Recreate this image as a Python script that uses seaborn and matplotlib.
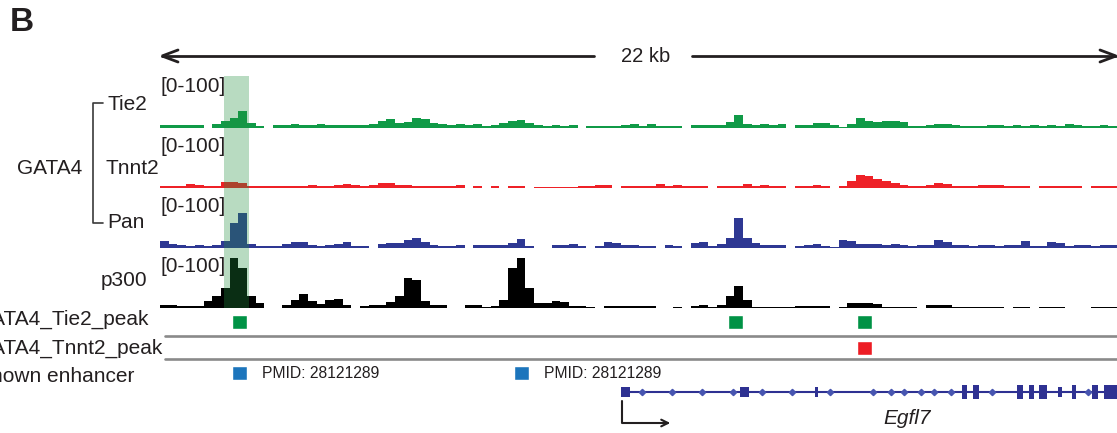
import numpy as np
import pandas as pd
import matplotlib
matplotlib.use("Agg")
import matplotlib.pyplot as plt
from matplotlib.patches import Rectangle
import seaborn as sns

# ---------------- data ----------------
region_kb = 22.0
bin_kb = 0.2
track_names = ["Tie2", "Tnnt2", "Pan", "p300"]
track_range = "[0-100]"

tie2 = [6, 6, 6, 6, 6, 0, 8, 14, 20, 34, 10, 4, 0, 6, 6, 8, 6, 6, 8, 6,
        6, 6, 6, 6, 8, 14, 18, 10, 12, 20, 18, 10, 8, 6, 8, 6, 8, 4, 6, 10,
        14, 16, 10, 6, 4, 6, 4, 6, 0, 4, 4, 4, 4, 6, 8, 4, 8, 4, 4, 4,
        0, 6, 6, 6, 6, 12, 26, 8, 6, 8, 6, 8, 0, 6, 6, 10, 10, 6, 2, 8,
        20, 14, 12, 14, 14, 12, 4, 4, 6, 8, 8, 6, 4, 4, 4, 6, 6, 4, 6, 4,
        6, 4, 6, 4, 8, 6, 4, 4, 6, 4]
tnnt2 = [4, 4, 4, 8, 6, 4, 4, 12, 12, 10, 4, 4, 4, 4, 4, 4, 4, 6, 4, 4,
         6, 8, 6, 4, 6, 10, 10, 6, 6, 4, 4, 4, 4, 4, 6, 0, 4, 0, 4, 0,
         4, 4, 0, 3, 3, 3, 3, 3, 4, 4, 6, 6, 0, 4, 4, 4, 4, 8, 4, 6,
         4, 4, 4, 0, 4, 4, 4, 8, 4, 6, 4, 4, 0, 4, 4, 6, 4, 0, 4, 14,
         26, 24, 18, 14, 10, 6, 4, 4, 6, 10, 8, 4, 4, 4, 6, 6, 6, 4, 4, 4,
         0, 4, 4, 4, 4, 4, 0, 4, 4, 4]
pan = [14, 8, 6, 4, 6, 4, 6, 14, 50, 70, 8, 4, 4, 4, 8, 12, 12, 6, 4, 6,
       8, 12, 4, 4, 0, 8, 10, 10, 16, 20, 12, 6, 4, 4, 6, 0, 6, 6, 6, 6,
       10, 18, 4, 0, 0, 6, 6, 8, 4, 0, 4, 12, 10, 6, 6, 4, 4, 0, 6, 4,
       0, 10, 12, 4, 8, 20, 60, 20, 10, 6, 6, 6, 0, 4, 6, 8, 4, 2, 16, 14,
       8, 8, 8, 6, 8, 6, 4, 6, 6, 16, 12, 6, 6, 4, 6, 6, 4, 6, 6, 14,
       4, 4, 12, 10, 4, 6, 6, 4, 6, 6]
p300 = [6, 6, 4, 4, 4, 14, 24, 40, 100, 80, 24, 10, 0, 0, 6, 16, 28, 14, 8, 16,
        18, 6, 0, 4, 6, 6, 12, 24, 60, 56, 14, 6, 6, 0, 0, 6, 6, 2, 4, 16,
        80, 100, 40, 10, 10, 14, 12, 4, 4, 2, 0, 4, 4, 4, 4, 4, 4, 0, 0, 2,
        0, 4, 6, 2, 6, 24, 44, 16, 2, 2, 2, 2, 2, 4, 4, 4, 4, 0, 2, 10,
        10, 10, 8, 2, 2, 2, 2, 0, 6, 6, 6, 2, 2, 2, 2, 2, 2, 0, 2, 2,
        0, 2, 2, 2, 0, 0, 0, 2, 2, 2]
track_values = [tie2, tnnt2, pan, p300]
track_colors = ["#109a47", "#ee2127", "#2e3893", "#000000"]

highlight_kb = (1.47, 2.05)

tie2_peak_start = [1.66, 13.06, 16.02]
tnnt2_peak_start = [16.02]
enhancer_start = [1.66, 8.14]
feature_kb = 0.35
enhancer_labels = ["PMID: 28121289", "PMID: 28121289"]

gene_name = "Egfl7"
gene_span = (10.60, 22.0)
exon_start = [10.60, 13.33, 15.06, 18.44, 18.69, 19.70, 19.98, 20.21, 20.64, 20.97, 21.43, 21.70]
exon_end = [10.80, 13.54, 15.13, 18.55, 18.83, 19.84, 20.09, 20.39, 20.74, 21.06, 21.56, 22.00]
exon_coding = [0, 0, 0, 1, 1, 1, 1, 1, 0, 1, 1, 1]
strand_marks = [11.08, 11.77, 12.46, 13.17, 13.84, 14.53, 15.40, 16.39, 16.80, 17.10,
                17.49, 17.79, 18.18, 19.13, 21.33]

# ---------------- figure ----------------
sns.set_theme(style="white")
plt.rcParams['font.family'] = ['Liberation Sans', 'DejaVu Sans']
W, H = 1117, 433
fig = plt.figure(figsize=(W / 100, H / 100), dpi=100)
fig.patch.set_facecolor("white")


def ax_px(x0, y0, x1, y1):
    ax = fig.add_axes([x0 / W, 1 - y1 / H, (x1 - x0) / W, (y1 - y0) / H])
    ax.set_xlim(0, region_kb)
    ax.axis("off")
    ax.patch.set_alpha(0)
    return ax


TRACK_X0, TRACK_X1 = 160, 1117
baselines = [128, 188, 248, 308]
track_h = 50
centers = (np.arange(len(tie2)) + 0.5) * bin_kb

for vals, col, base in zip(track_values, track_colors, baselines):
    ax = ax_px(TRACK_X0, base - track_h, TRACK_X1, base)
    df = pd.DataFrame({"pos": centers, "signal": np.asarray(vals, dtype=float)})
    sns.histplot(data=df, x="pos", weights="signal", bins=len(vals),
                 binrange=(0, region_kb), element="step",
                 fill=True, color=col, alpha=1, linewidth=0, ax=ax)
    ax.set_xlim(0, region_kb)
    ax.set_ylim(0, 100)
    ax.axis("off")

# highlight band
band = ax_px(TRACK_X0, 76, TRACK_X1, 308)
band.axvspan(*highlight_kb, color="#22903f", alpha=0.32, linewidth=0)

# peak rows
GREEN, RED, BLUE = "#009245", "#ed1c24", "#1c75bc"
rows = [(tie2_peak_start, GREEN, 315, 329), (tnnt2_peak_start, RED, 341, 355),
        (enhancer_start, BLUE, 366, 380)]
for starts, col, y0, y1 in rows:
    ax = ax_px(TRACK_X0, y0, TRACK_X1, y1)
    ax.set_ylim(0, 1)
    ax.broken_barh([(s, feature_kb) for s in starts], (0, 1), facecolors=col)
    if col == BLUE:
        for s, lab in zip(starts, enhancer_labels):
            ax.text(s + feature_kb + 0.33, 0.5, lab, fontsize=11.3, color="#231f20",
                    va="center", ha="left")

# gene
GENE = "#2e3192"
gax = ax_px(TRACK_X0, 380, TRACK_X1, 404)
gax.set_ylim(-1, 1)
gax.hlines(0, *gene_span, color=GENE, linewidth=1.5)
for s, e, c in zip(exon_start, exon_end, exon_coding):
    h = 0.62 if c else 0.38
    gax.add_patch(Rectangle((s, -h), e - s, 2 * h, facecolor=GENE, edgecolor="none"))
gax.plot(strand_marks, [0] * len(strand_marks), linestyle="none", marker="D",
         markersize=3.2, color="#4755b0")

# ---------------- overlay texts/decorations ----------------
ov = fig.add_axes([0, 0, 1, 1])
ov.set_xlim(0, W)
ov.set_ylim(H, 0)
ov.axis("off")
ov.patch.set_alpha(0)

TXT = "#231f20"
FS = 15
ov.text(10, 7, "B", fontsize=24, fontweight="bold", color=TXT, va="top", ha="left")

# scale bar
ov.plot([162, 594], [56, 56], color=TXT, lw=2)
ov.plot([692, 1116], [56, 56], color=TXT, lw=2)
ov.plot([178, 162, 178], [50, 56, 62], color=TXT, lw=2, solid_joinstyle="miter")
ov.plot([1100, 1116, 1100], [50, 56, 62], color=TXT, lw=2, solid_joinstyle="miter")
ov.text(646, 56, "22 kb", fontsize=14.5, color=TXT, va="center", ha="center")

# track labels
tops = [b - track_h for b in baselines]
for t in tops:
    ov.text(160, t - 1, track_range, fontsize=FS, color=TXT, va="top", ha="left")
ov.text(107, 105, "Tie2", fontsize=FS, color=TXT, va="center", ha="left")
ov.text(106, 169, "Tnnt2", fontsize=FS, color=TXT, va="center", ha="left")
ov.text(107, 223, "Pan", fontsize=FS, color=TXT, va="center", ha="left")
ov.text(101, 280, "p300", fontsize=FS, color=TXT, va="center", ha="left")
ov.text(17, 168, "GATA4", fontsize=FS, color=TXT, va="center", ha="left")
ov.plot([103, 93, 93, 103], [103, 103, 223, 223], color="#3a3a3a", lw=1.2)

# row labels (partly outside the left edge, as in the original figure panel)
ov.text(-25, 319, "GATA4_Tie2_peak", fontsize=FS, color=TXT, va="center", ha="left")
ov.text(-25, 348, "GATA4_Tnnt2_peak", fontsize=FS, color=TXT, va="center", ha="left")
ov.text(-23, 376, "Known enhancer", fontsize=FS, color=TXT, va="center", ha="left")

# separator lines
for y in (336, 359):
    ov.plot([165, 1117], [y, y], color="#8a8a8a", lw=1.9)

# TSS arrow
ov.plot([622, 622, 668], [401, 423, 423], color=TXT, lw=1.5)
ov.annotate("", xy=(673, 423), xytext=(660, 423),
            arrowprops=dict(arrowstyle="->", color=TXT, lw=1.5))
ov.text(907, 418, gene_name, fontsize=FS, style="italic", color=TXT,
        va="center", ha="center")

fig.savefig("out.png", dpi=100)
